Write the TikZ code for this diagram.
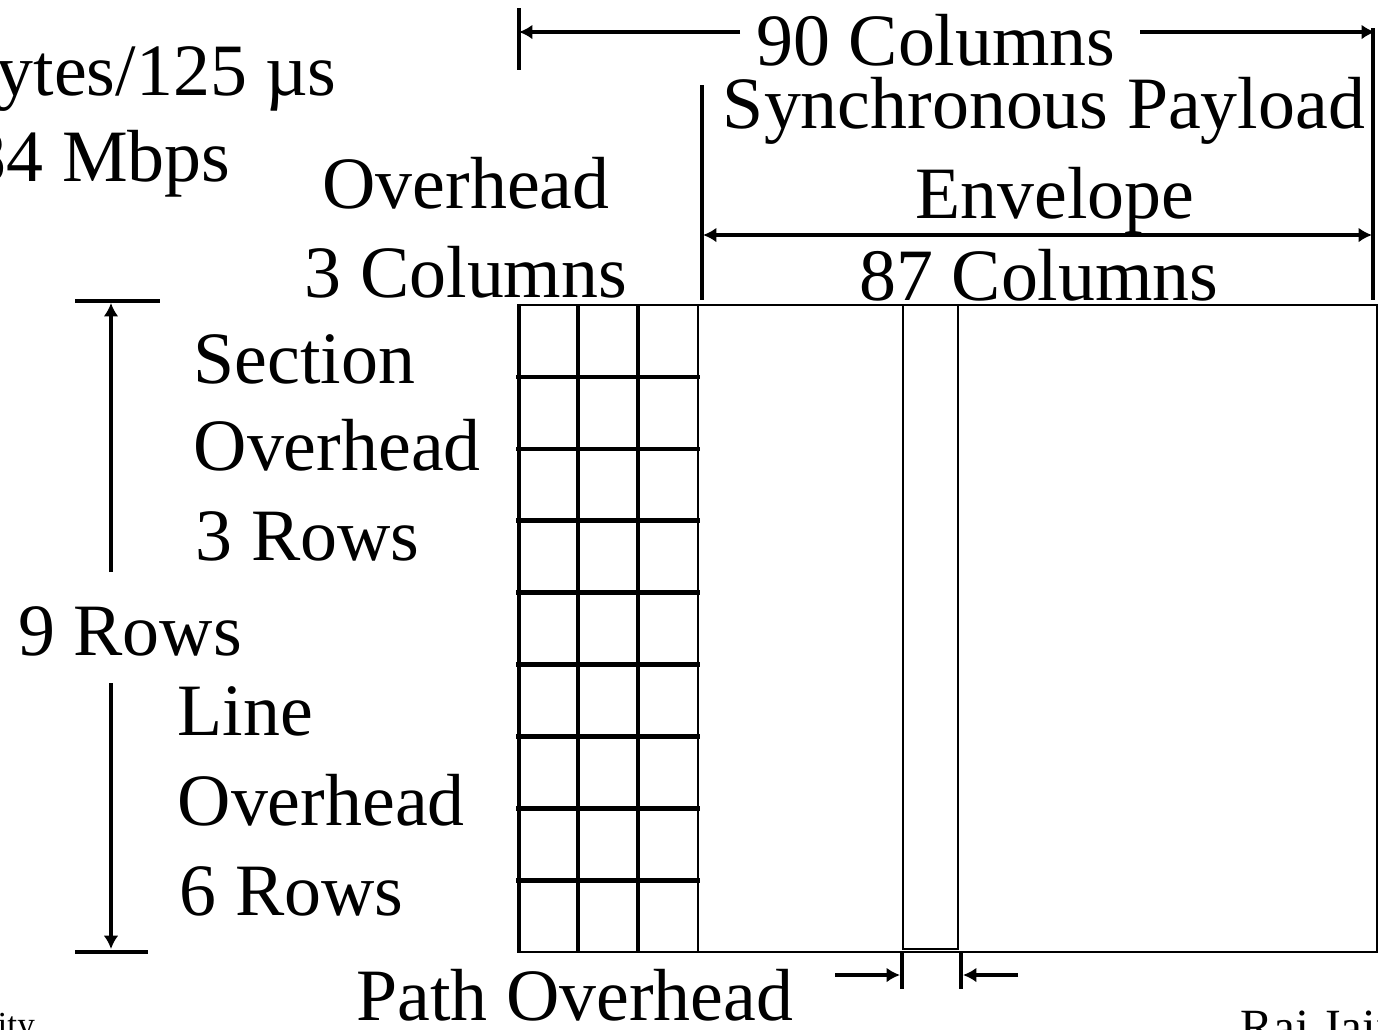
\documentclass[tikz,border=0pt]{standalone}
\usepackage{fontspec}
\setmainfont{Liberation Serif}
\usepackage{tikz}
\usetikzlibrary{arrows.meta, positioning}

\begin{document}
\begin{tikzpicture}[x=0.01cm, y=-0.01cm,
    txt/.style={font=\fontsize{21}{25}\selectfont, inner sep=0pt, anchor=base},
    txtl/.style={txt, anchor=base west},
    small/.style={font=\fontsize{14}{16}\selectfont, inner sep=0pt, anchor=base west},
    bar/.style={line width=1.2pt},
    dimline/.style={line width=1.1pt, -{Latex[length=3.8pt, width=4.2pt]}},
    gridline/.style={line width=1.3pt},
    frameline/.style={line width=0.7pt}]

    \useasboundingbox (0,0) rectangle (1378,1029);
    \clip (0,0) rectangle (1378,1029);

    % rates (cut at the left edge)
    \node (rate) [txtl] at (-4,95) {ytes/125 µs};
    \node (mbps) [txtl] at (-31,181) {84 Mbps};

    % frame of 9 rows
    \draw[frameline] (518,305) rectangle (1377,952);
    \foreach \k in {1,...,8}
        \draw[gridline] (516,305+71.9*\k) -- (700,305+71.9*\k);
    \foreach \x in {519,578,638}
        \draw[gridline] (\x,305) -- (\x,952);
    \draw[frameline] (698,305) -- (698,952);
    % path overhead column
    \draw[frameline] (903,305) -- (903,949) -- (958,949) -- (958,305);

    % 90 columns
    \node (c90) [txt] at (936,65) {90 Columns};
    \coordinate (c90l) at (519,32);
    \coordinate (c90r) at (1375,32);
    \draw[bar] (519,8) -- (519,70);
    \draw[bar] (1373,28) -- (1373,300);
    \draw[dimline] (740,32) -- (c90l);
    \draw[dimline] (1140,32) -- (c90r);

    % payload envelope
    \node (spe1) [txt] at (1044,128) {Synchronous Payload};
    \node (spe2) [txt] at (1055,218) {Envelope};
    \node (c87) [txt] at (1039,300) {87 Columns};
    \coordinate (c87l) at (703,235);
    \coordinate (c87r) at (1372,235);
    \draw[bar] (702,85) -- (702,300);
    \draw[dimline, {Latex[length=3.8pt, width=4.2pt]}-{Latex[length=3.8pt, width=4.2pt]}] (c87l) -- (c87r);

    % transport overhead
    \node (toh1) [txt] at (466,208) {Overhead};
    \node (toh2) [txt] at (466,297) {3 Columns};

    % 9 rows
    \node (r9) [txt] at (130,655) {9 Rows};
    \coordinate (rtop) at (111,303);
    \coordinate (rbot) at (111,949);
    \draw[bar] (75,301) -- (160,301);
    \draw[bar] (75,952) -- (148,952);
    \draw[dimline] (111,572) -- (rtop);
    \draw[dimline] (111,683) -- (rbot);

    \node (soh1) [txtl] at (193,383) {Section};
    \node (soh2) [txtl] at (193,470) {Overhead};
    \node (soh3) [txtl] at (195,560) {3 Rows};
    \node (loh1) [txtl] at (177,735) {Line};
    \node (loh2) [txtl] at (177,825) {Overhead};
    \node (loh3) [txtl] at (179,915) {6 Rows};

    % path overhead
    \node (poh) [txt] at (575,1020) {Path Overhead};
    \coordinate (pohl) at (900,975);
    \coordinate (pohr) at (963,975);
    \draw[bar] (902,952) -- (902,989);
    \draw[bar] (961,952) -- (961,989);
    \draw[dimline] (835,975) -- (pohl);
    \draw[dimline] (1018,975) -- (pohr);

    % footer (cut at the edges)
    \node (foot) [small, font=\fontsize{10}{12}\selectfont] at (-3,1036) {ity};
    \node (author) [small] at (1240,1043) {Raj Jain};

\end{tikzpicture}
\end{document}
